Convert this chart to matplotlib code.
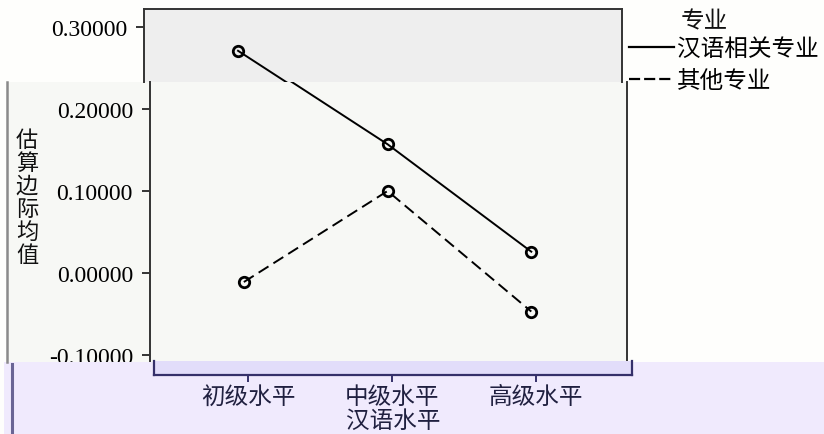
import matplotlib
matplotlib.use("Agg")
import matplotlib.pyplot as plt
from matplotlib.lines import Line2D
from matplotlib.patches import Rectangle
from matplotlib.transforms import Bbox

# --- data ---
levels = ["初级水平", "中级水平", "高级水平"]
related_major = [0.271, 0.157, 0.026]
other_major = [-0.011, 0.100, -0.047]
y_ticks = [-0.1, 0.0, 0.1, 0.2, 0.3]
series_names = ["汉语相关专业", "其他专业"]
legend_title = "专业"
x_title = "汉语水平"
y_title = "估算边际均值"

W, H = 824, 435
CJK = ["Noto Sans CJK SC", "DejaVu Sans"]
SERIF = ["Liberation Serif", "DejaVu Serif"]
FRAME = "#333333"
NAVY = "#35306a"

# the reference is a collage of three screenshot strips, each shifted a few pixels
PX_PER_UNIT_Y = 820.0          # pixels per 1.0 on the value axis
Y0_PX = 274                    # pixel row of 0.00000
XLEFT = -0.653                 # category axis starts 94 px left of the first level
XRIGHT = 2.666


def fx(px):
    return px / W


def fy(py):
    return 1 - py / H


def val(py):
    return (Y0_PX - py) / PX_PER_UNIT_Y


def axes_px(left, top, right, bottom):
    return [fx(left), fy(bottom), fx(right) - fx(left), fy(top) - fy(bottom)]


fig = plt.figure(figsize=(W / 100, H / 100), dpi=100)
fig.patch.set_facecolor("#fefefc")

# background strips
fig.patches.append(Rectangle((fx(144), fy(83)), fx(622) - fx(144), fy(10) - fy(83),
                             transform=fig.transFigure, facecolor="#eeeeee",
                             edgecolor="none", zorder=-5))
fig.patches.append(Rectangle((fx(7), fy(363)), fx(627) - fx(7), fy(83) - fy(363),
                             transform=fig.transFigure, facecolor="#f7f8f5",
                             edgecolor="none", zorder=-5))
fig.patches.append(Rectangle((fx(4), 0), 1 - fx(4), fy(363),
                             transform=fig.transFigure, facecolor="#f0eafd",
                             edgecolor="none", zorder=-5))
fig.lines.append(Line2D([fx(7), fx(7)], [fy(83), fy(363)], transform=fig.transFigure,
                        color="#8a8a8a", lw=1.8, zorder=-4))
fig.lines.append(Line2D([fx(12), fx(12)], [fy(365), 0], transform=fig.transFigure,
                        color="#6a6595", lw=2.2, zorder=-4))


def draw_series(a):
    x = list(range(len(levels)))
    a.plot(x, related_major, color="black", lw=1.4, marker="o", ms=7.5,
           mfc="none", mec="black", mew=2.0)
    a.plot(x, other_major, color="black", lw=1.4, ls=(0, (6, 3)), marker="o", ms=7.5,
           mfc="none", mec="black", mew=2.0)
    a.set_xticks([])
    a.set_xlim(XLEFT, XRIGHT)


def style_y(a, top_px, bottom_px):
    a.set_yticks(y_ticks)
    a.set_yticklabels([f"{v:.5f}" for v in y_ticks], fontfamily=SERIF, fontsize=17)
    a.tick_params(axis="y", length=5.8, width=1.4, pad=6.5, color=FRAME)
    # limits after the ticks, otherwise set_yticks widens them
    a.set_ylim(val(bottom_px), val(top_px))


# top strip
ax_top = fig.add_axes(axes_px(144, 10, 622, 83))
ax_top.patch.set_visible(False)
draw_series(ax_top)
style_y(ax_top, 10, 83)
ax_top.spines["bottom"].set_visible(False)
for side in ["left", "top", "right"]:
    ax_top.spines[side].set_color(FRAME)
    ax_top.spines[side].set_linewidth(1.4)

# middle strip
ax = fig.add_axes(axes_px(150, 83, 627, 376))
ax.patch.set_visible(False)
draw_series(ax)
style_y(ax, 83, 376)
ax.spines["top"].set_visible(False)
ax.spines["bottom"].set_visible(False)
for side in ["left", "right"]:
    ax.spines[side].set_color(FRAME)
    ax.spines[side].set_linewidth(1.4)
    ax.spines[side].set_bounds(val(362), val(83))
# the lavender strip hides the lower half of the bottom tick label
lab = ax.get_yticklabels()[0]
lab.set_clip_box(Bbox.from_extents(0, H - 363, W, H))
lab.set_clip_on(True)

# bottom strip carries the category axis
ax_bot = fig.add_axes(axes_px(154, 362, 632, 376))
ax_bot.patch.set_facecolor("#e2ddfa")
ax_bot.set_yticks([])
ax_bot.set_xticks(range(len(levels)))
ax_bot.set_xlim(XLEFT, XRIGHT)
ax_bot.set_xticklabels(levels, fontfamily=CJK, fontsize=17, color="#202040")
ax_bot.tick_params(axis="x", length=5, width=1.4, pad=2, color=NAVY)
ax_bot.set_xlabel(x_title, fontfamily=CJK, fontsize=17, color="#202040", labelpad=1)
ax_bot.spines["top"].set_visible(False)
for side in ["left", "right", "bottom"]:
    ax_bot.spines[side].set_color(NAVY)
    ax_bot.spines[side].set_linewidth(1.6)

# vertical y title, one character per line
fig.text(fx(27), fy(198), "\n".join(y_title), fontfamily=CJK, fontsize=16,
         ha="center", va="center", linespacing=1.0, color="#111111")

# legend
fig.text(fx(681), fy(22), legend_title, fontfamily=CJK, fontsize=17,
         ha="left", va="center", color="#111111")
handles = [Line2D([], [], color="black", lw=1.6),
           Line2D([], [], color="black", lw=1.6, ls=(0, (5, 1.8)))]
leg = fig.legend(handles, series_names, loc="upper left",
                 bbox_to_anchor=(fx(629), fy(38)), frameon=False,
                 handlelength=1.9, handletextpad=0.15, labelspacing=0.38,
                 borderpad=0, borderaxespad=0,
                 prop={"family": CJK, "size": 17})

fig.savefig("out.png", dpi=100)
